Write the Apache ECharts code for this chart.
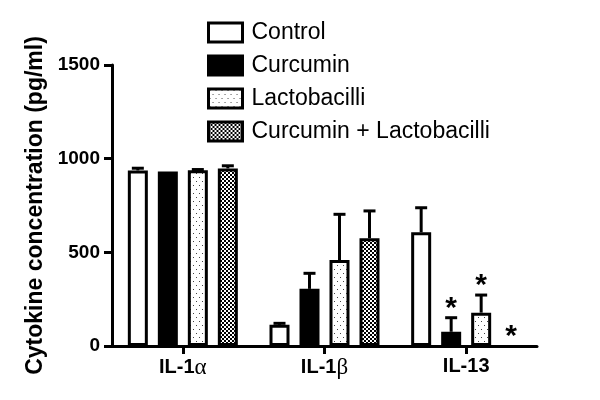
<!DOCTYPE html>
<html>
<head>
<meta charset="utf-8">
<script src="https://cdn.jsdelivr.net/npm/echarts@6/dist/echarts.min.js"></script>
<style>
  html, body { margin: 0; padding: 0; background: #fff; }
  #chart { width: 600px; height: 400px; }
</style>
</head>
<body>
<div id="chart"></div>
<script>
// datos
const categories = ['IL-1α', 'IL-1β', 'IL-13'];
const seriesNames = ['Control', 'Curcumin', 'Lactobacilli', 'Curcumin + Lactobacilli'];

const control = [937, 113, 607];
const controlErr = [12, 8, 131];
const curcumin = [932, 305, 76];
const curcuminErr = [0, 83, 75];
const lacto = [938, 459, 178];
const lactoErr = [4, 244, 94];
const combo = [948, 575, 0];
const comboErr = [14, 146, 0];

// asteriscos (diferencia significativa)
const controlSig = [0, 0, 0];
const curcuminSig = [0, 0, 1];
const lactoSig = [0, 0, 1];
const comboSig = [0, 0, 1];

const yTicks = [0, 500, 1000, 1500];

const FONT = "'Liberation Sans', Arial, sans-serif";
const BAR_W = 20;
const BAR_GAP = 10; // px entre barras

// patrones de relleno
function dotPattern() {
  const c = document.createElement('canvas');
  c.width = 6; c.height = 8;
  const ctx = c.getContext('2d');
  ctx.fillStyle = '#fff';
  ctx.fillRect(0, 0, 6, 8);
  ctx.fillStyle = '#444';
  ctx.fillRect(1, 1, 1, 1);
  ctx.fillRect(4, 5, 1, 1);
  return c;
}
function checkerPattern() {
  const c = document.createElement('canvas');
  c.width = 4; c.height = 4;
  const ctx = c.getContext('2d');
  ctx.fillStyle = '#fff';
  ctx.fillRect(0, 0, 4, 4);
  ctx.fillStyle = '#000';
  ctx.fillRect(0, 0, 2, 2);
  ctx.fillRect(2, 2, 2, 2);
  return c;
}

const fills = [
  '#fff',
  '#000',
  { image: dotPattern(), repeat: 'repeat' },
  { image: checkerPattern(), repeat: 'repeat' }
];
const values = [control, curcumin, lacto, combo];
const errors = [controlErr, curcuminErr, lactoErr, comboErr];
const sigs = [controlSig, curcuminSig, lactoSig, comboSig];

const myChart = echarts.init(document.getElementById('chart'));

const barSeries = seriesNames.map((name, i) => ({
  name: name,
  type: 'bar',
  // una barra en cero no se dibuja (solo quedaria el borde sobre el eje)
  data: values[i].map(v => (v === 0 ? '-' : v)),
  barWidth: BAR_W,
  barGap: (BAR_GAP / BAR_W * 100) + '%',
  itemStyle: { color: fills[i], borderColor: '#000', borderWidth: 3 },
  emphasis: { disabled: true }
}));

// filas para barras de error: [categoria, serie, valor, error, signif]
const errRows = [];
values.forEach((vals, si) => {
  vals.forEach((v, ci) => {
    errRows.push([ci, si, v, errors[si][ci], sigs[si][ci]]);
  });
});

const errSeries = {
  name: 'err',
  type: 'custom',
  data: errRows,
  encode: { x: 0, y: 2 },
  z: 5,
  renderItem: function (params, api) {
    const ci = api.value(0);
    const si = api.value(1);
    const v = api.value(2);
    const e = api.value(3);
    const s = api.value(4);
    const x = api.coord([ci, 0])[0] + (si - 1.5) * (BAR_W + BAR_GAP);
    const yTop = api.coord([ci, v])[1];
    const yEnd = api.coord([ci, v + e])[1];
    const children = [];
    const st = { stroke: '#000', lineWidth: 3 };
    if (e > 0) {
      children.push({ type: 'line', shape: { x1: x, y1: yTop, x2: x, y2: yEnd }, style: st });
      children.push({ type: 'line', shape: { x1: x - 6, y1: yEnd, x2: x + 6, y2: yEnd }, style: st });
    }
    if (s) {
      children.push({
        type: 'text',
        style: {
          x: x, y: yEnd + 6, text: '*', align: 'center', verticalAlign: 'bottom',
          fontSize: 30, fontWeight: 'bold', fontFamily: FONT, fill: '#000'
        }
      });
    }
    return { type: 'group', children: children };
  }
};

const option = {
  animation: false,
  textStyle: { fontFamily: FONT },
  legend: {
    data: seriesNames,
    orient: 'vertical',
    left: 202,
    top: 16,
    icon: 'rect',
    itemWidth: 34,
    itemHeight: 19,
    itemGap: 10,
    itemStyle: { borderWidth: 3, borderColor: '#000' },
    textStyle: { fontSize: 23, lineHeight: 22, color: '#000', fontFamily: FONT, padding: [0, 0, 0, 4] }
  },
  grid: { left: 112, right: 63, top: 65, bottom: 54 },
  xAxis: {
    type: 'category',
    data: categories,
    axisLine: { lineStyle: { color: '#000', width: 3 } },
    axisTick: { show: true, alignWithLabel: true, length: 8, lineStyle: { color: '#000', width: 3 } },
    axisLabel: {
      color: '#000', fontSize: 20, fontWeight: 'bold', margin: 10, fontFamily: FONT,
      formatter: (v) => v.replace(/([α-ω])/, '{g|$1}'),
      rich: { g: { fontFamily: "'Liberation Serif', serif", fontSize: 23, fontWeight: 'normal', color: '#000' } }
    }
  },
  yAxis: {
    type: 'value',
    min: yTicks[0],
    max: yTicks[yTicks.length - 1],
    interval: yTicks[1] - yTicks[0],
    name: 'Cytokine concentration (pg/ml)',
    nameLocation: 'middle',
    nameRotate: 90,
    nameGap: 65,
    nameTextStyle: { fontSize: 23, fontWeight: 'bold', color: '#000', fontFamily: FONT },
    axisLine: { show: true, lineStyle: { color: '#000', width: 3 } },
    axisTick: { show: true, length: 8, lineStyle: { color: '#000', width: 3 } },
    splitLine: { show: false },
    axisLabel: { color: '#000', fontSize: 19, fontWeight: 'bold', margin: 12, fontFamily: FONT, formatter: (v) => String(v) }
  },
  series: barSeries.concat([errSeries])
};

myChart.setOption(option);
</script>
</body>
</html>
